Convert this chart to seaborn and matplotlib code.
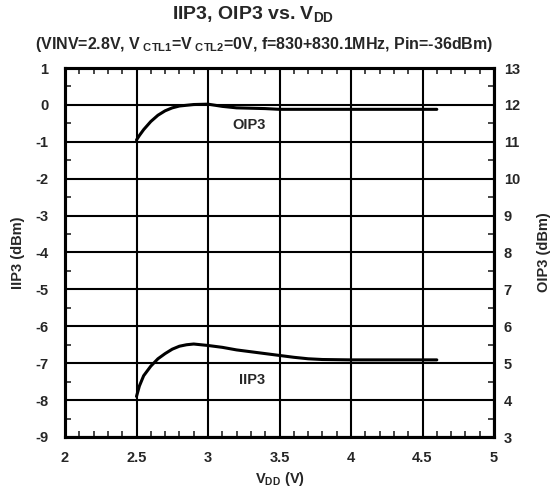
import numpy as np
import pandas as pd
import seaborn as sns
import matplotlib.pyplot as plt
from matplotlib.ticker import MultipleLocator

# data
vdd_iip3 = [2.5, 2.52, 2.55, 2.6, 2.65, 2.7, 2.75, 2.8, 2.85, 2.9, 3.0, 3.1, 3.2, 3.3, 3.4, 3.5, 3.6, 3.7, 3.8, 4.0, 4.6]
iip3 = [-7.9, -7.62, -7.34, -7.08, -6.88, -6.74, -6.62, -6.54, -6.5, -6.48, -6.52, -6.57, -6.64, -6.69, -6.74, -6.79, -6.84, -6.88, -6.9, -6.91, -6.91]
vdd_oip3 = [2.5, 2.52, 2.55, 2.6, 2.65, 2.7, 2.75, 2.8, 2.9, 3.0, 3.1, 3.2, 3.4, 3.5, 4.0, 4.6]
oip3 = [11.05, 11.17, 11.33, 11.55, 11.72, 11.84, 11.92, 11.97, 12.01, 12.02, 11.96, 11.92, 11.9, 11.88, 11.88, 11.88]

xticks = [2, 2.5, 3, 3.5, 4, 4.5, 5]
left_ticks = list(range(-9, 2))
right_ticks = list(range(3, 14))

sns.set_style("white")
plt.rcParams['font.family'] = ['Liberation Sans', 'DejaVu Sans']
plt.rcParams['font.weight'] = 'bold'
plt.rcParams['axes.unicode_minus'] = False
plt.rcParams['mathtext.fontset'] = 'custom'
plt.rcParams['mathtext.rm'] = 'Liberation Sans:bold'
plt.rcParams['mathtext.bf'] = 'Liberation Sans:bold'
plt.rcParams['mathtext.it'] = 'Liberation Sans:bold'

fig = plt.figure(figsize=(5.53, 4.95), dpi=100)
ax = fig.add_axes([65/553, 1-437/495, 429/553, 369/495])
ax2 = ax.twinx()

df_i = pd.DataFrame({'vdd': vdd_iip3, 'iip3': iip3})
df_o = pd.DataFrame({'vdd': vdd_oip3, 'oip3': oip3})
sns.lineplot(x='vdd', y='iip3', data=df_i, ax=ax, color='black', lw=2.2, zorder=5)
sns.lineplot(x='vdd', y='oip3', data=df_o, ax=ax2, color='black', lw=2.2, zorder=5)

ax.set_xlim(2, 5)
ax.set_ylim(-9, 1)
ax2.set_ylim(3, 13)
ax.set_xticks(xticks)
ax.set_xticklabels(['2', '2.5', '3', '3.5', '4', '4.5', '5'])
ax.set_yticks(left_ticks)
ax2.set_yticks(right_ticks)
ax.xaxis.set_minor_locator(MultipleLocator(0.1))
ax.yaxis.set_minor_locator(MultipleLocator(0.5))
ax2.yaxis.set_minor_locator(MultipleLocator(0.5))

ax.grid(True, which='major', color='black', lw=1.5)
ax.set_axisbelow(True)
for a in (ax, ax2):
    for s in a.spines.values():
        s.set_linewidth(2.2)
        s.set_color('black')

fs = 10.5
ax.tick_params(axis='x', which='both', direction='in', top=True, bottom=True, labelsize=fs, pad=10)
ax.tick_params(axis='x', which='minor', length=4, width=1.2)
ax.tick_params(axis='x', which='major', length=0)
ax.tick_params(axis='y', which='major', direction='in', length=0, labelsize=fs, pad=12)
ax.tick_params(axis='y', which='minor', direction='in', length=4, width=1.2, left=True)
ax2.tick_params(axis='y', which='major', direction='in', length=0, labelsize=fs, pad=7)
ax2.tick_params(axis='y', which='minor', direction='in', length=4, width=1.2, right=True)
for lab in ax.get_xticklabels() + ax.get_yticklabels() + ax2.get_yticklabels():
    lab.set_fontweight('bold')

ax.set_xlabel(r'V$_{\mathrm{DD}}$ (V)', fontsize=fs, fontweight='bold')
ax.set_ylabel('IIP3 (dBm)', fontsize=fs, fontweight='bold')
ax2.set_ylabel('OIP3 (dBm)', fontsize=fs, fontweight='bold')
ax.xaxis.set_label_coords(0.5, -(479 - 437) / 369)
ax.yaxis.set_label_coords(-(65 - 18) / 429, 0.5)
ax2.yaxis.set_label_coords((544 - 65) / 429, 0.5)
ax.xaxis.label.set_va('center')
ax.yaxis.label.set_va('center')
ax2.yaxis.label.set_va('center')

ax.text(3.29, -0.55, 'OIP3', fontsize=fs, fontweight='bold', ha='center', va='center')
ax.text(3.31, -7.46, 'IIP3', fontsize=fs, fontweight='bold', ha='center', va='center')

fig.text(253/553, 1-14/495, r'IIP3, OIP3 vs. V$_{\mathrm{DD}}$', fontsize=14, fontweight='bold',
         ha='center', va='center')
fig.text(264/553, 1-45/495,
         r'(VINV=2.8V, V$_{\ \mathrm{CTL1}}$=V$_{\ \mathrm{CTL2}}$=0V, f=830+830.1MHz, Pin=-36dBm)',
         fontsize=11.5, fontweight='bold', ha='center', va='center')

fig.savefig('out.png', dpi=100)
